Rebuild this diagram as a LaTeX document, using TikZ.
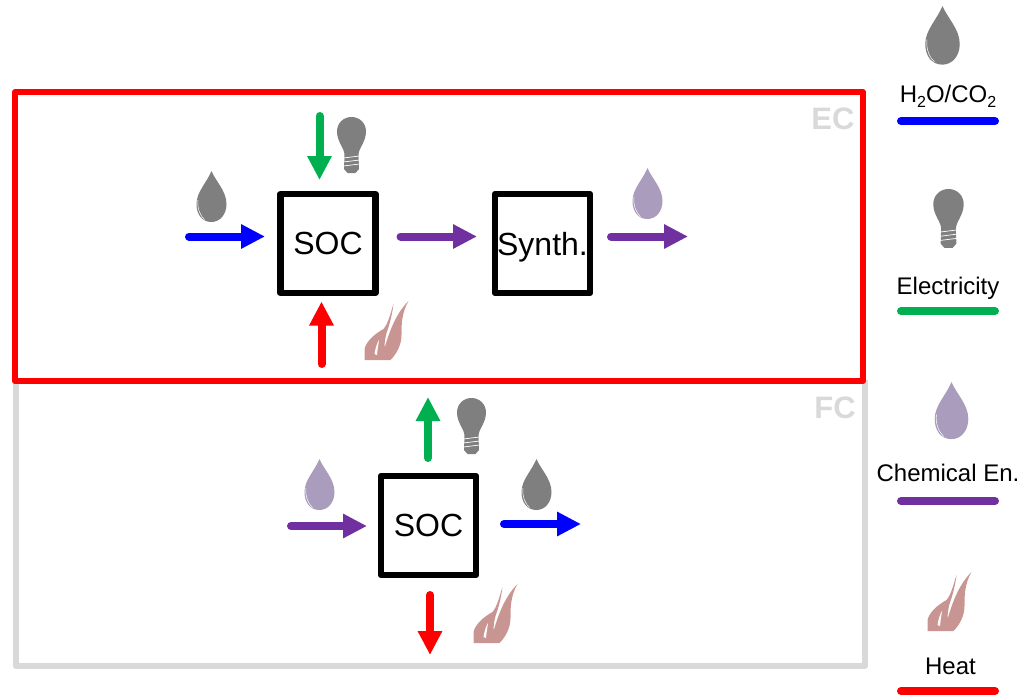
\documentclass[tikz,border=0pt]{standalone}
\usepackage{fontspec}
\setmainfont{Liberation Sans}
\usetikzlibrary{arrows.meta,positioning,calc}
\definecolor{keyblue}{HTML}{0000FF}
\definecolor{keygreen}{HTML}{00B050}
\definecolor{keypurple}{HTML}{7030A0}
\definecolor{keyred}{HTML}{FF0000}
\definecolor{icongray}{HTML}{7F7F7F}
\definecolor{iconlilac}{HTML}{A99CBD}
\definecolor{iconflame}{HTML}{C99592}
\definecolor{framegray}{HTML}{D9D9D9}
\newcommand{\lowtwo}{\raisebox{-5.5pt}{\fontsize{16}{18}\selectfont 2}}

\begin{document}
\begin{tikzpicture}[x=1pt, y=-1pt,
  font=\fontsize{24}{28}\selectfont,
  frame/.style={line width=6pt, line join=round},
  modebox/.style={font=\fontsize{31}{34}\selectfont\bfseries, text=framegray, inner sep=0pt},
  unit/.style={draw=black, fill=white, line width=6.5pt, line join=round, inner sep=0pt, outer sep=0pt,
               minimum width=95pt, minimum height=99pt, text depth=0pt, font=\fontsize{32}{34}\selectfont},
  keytext/.style={anchor=base, inner sep=0pt},
  flow/.style={-{Triangle[length=24pt, width=23pt]}, line width=8pt, line cap=round},
  keybar/.style={line width=8pt, line cap=round},
  drop/.pic={
    \fill[pic actions] (0,0) .. controls (4,10) and (15,20) .. (15,33)
      .. controls (15,44) and (8,51) .. (0,51)
      .. controls (-9,51) and (-15,44) .. (-15,33)
      .. controls (-15,21) and (-5,12) .. (0,0) -- cycle;
    \draw[white, line width=0.5pt] (-13.5,29) .. controls (-14.5,38) and (-11,45) .. (-7,48.5);
  },
  bulb/.pic={
    \fill[pic actions] (-7,38) .. controls (-7,31) and (-14.5,25) .. (-14.5,14.5)
      .. controls (-14.5,6) and (-8,0) .. (0,0)
      .. controls (8,0) and (14.5,6) .. (14.5,14.5)
      .. controls (14.5,25) and (7,31) .. (7,38)
      -- (7.5,52) -- (4,56) -- (-4,56) -- (-7.5,52) -- cycle;
    \draw[white, line width=0.7pt] (-8,41) -- (8,39) (-8,45) -- (8,43) (-8,49) -- (8,47);
  },
  flame/.pic={
    \fill[pic actions] (0,59) -- (0,48) .. controls (2,40) and (10,33) .. (19,28)
      .. controls (24,22) and (26,12) .. (29,3)
      .. controls (28,12) and (25,24) .. (22,32)
      .. controls (20.5,38) and (20,42) .. (20,47)
      .. controls (24,34) and (30,14) .. (44,0)
      .. controls (37,12) and (37,24) .. (37,34)
      .. controls (37,44) and (32,53) .. (26,59) -- cycle;
    \fill[white] (10,53) .. controls (11,47) and (12.5,42) .. (14.5,39)
      .. controls (14,43) and (13,48) .. (12.5,54) -- cycle;
  },
]

% outer frames, gray one goes under the red one
\draw[frame, framegray] (16,380) -- (16,666) -- (865,666) -- (865,380);
\draw[frame, keyred] (15,92) rectangle (863,381);
\node[modebox] (ecmode) at (833,119) {EC};
\node[modebox] (fcmode) at (835,408) {FC};

% upper part
\node[unit] (soctop) at (328,243.5) {SOC};
\node[unit] (synth) at (542.5,243.5) {Synth.};
\coordinate (feedin) at (189,236.5);
\coordinate (powerin) at (319.5,116);
\coordinate (heatin) at (321.5,364);
\coordinate (fuelout) at (688,236.5);

\draw[flow, keyblue, shorten >=15.5pt] (feedin) -- (soctop.west |- feedin);
\draw[flow, keygreen, shorten >=14pt] (powerin) -- (soctop.north -| powerin);
\draw[flow, keyred, shorten >=8.5pt] (heatin) -- (soctop.south -| heatin);
\draw[flow, keypurple, shorten <=25pt, shorten >=18pt] (soctop.east |- feedin) -- (synth.west |- feedin);
\draw[flow, keypurple, shorten <=21pt] (synth.east |- fuelout) -- (fuelout);

\pic[icongray] at (211.5,171) {drop};
\pic[icongray] at (351.5,117) {bulb};
\pic[iconlilac] at (647.5,168) {drop};
\pic[iconflame] at (364.5,301) {flame};

% lower part
\node[unit] (socbot) at (428.5,525.5) {SOC};
\coordinate (fuelin) at (291,526);
\coordinate (powerout) at (428,458);
\coordinate (feedout) at (581,524);
\coordinate (heatout) at (430,655);

\draw[flow, keypurple, shorten >=14pt] (fuelin) -- (socbot.west |- fuelin);
\draw[flow, keygreen, shorten <=18pt] (socbot.north -| powerout) -- (powerout |- 0,397);
\draw[flow, keyblue, shorten <=28pt] (socbot.east |- feedout) -- (feedout);
\draw[flow, keyred, shorten <=20pt] (socbot.south -| heatout) -- (heatout);

\pic[iconlilac] at (319.5,459) {drop};
\pic[icongray] at (536.5,459) {drop};
\pic[icongray] at (471.5,398) {bulb};
\pic[iconflame] at (473.5,584) {flame};

% legend on the right
\node[keytext] (keyfeed) at (948,102) {H\lowtwo O/CO\lowtwo};
\node[keytext] (keypower) at (948,294) {Electricity};
\node[keytext] (keyfuel) at (948,481) {Chemical En.};
\node[keytext] (keyheat) at (950.5,674) {Heat};

\coordinate (barfeed) at (948,121);
\coordinate (barpower) at (948,311);
\coordinate (barfuel) at (948,501);
\coordinate (barheat) at (948,691);
\draw[keybar, keyblue] ($(barfeed)+(-47,0)$) -- ($(barfeed)+(47,0)$);
\draw[keybar, keygreen] ($(barpower)+(-47,0)$) -- ($(barpower)+(47,0)$);
\draw[keybar, keypurple] ($(barfuel)+(-47,0)$) -- ($(barfuel)+(47,0)$);
\draw[keybar, keyred] ($(barheat)+(-47,0)$) -- ($(barheat)+(47,0)$);

\pic[icongray, scale=1.15] at (942.5,6) {drop};
\pic[icongray, scale=1.05] at (948.5,189) {bulb};
\pic[iconlilac, scale=1.12] at (951.5,382) {drop};
\pic[iconflame] at (927.5,572) {flame};

\useasboundingbox (0,0) rectangle (1029,697);
\end{tikzpicture}
\end{document}
